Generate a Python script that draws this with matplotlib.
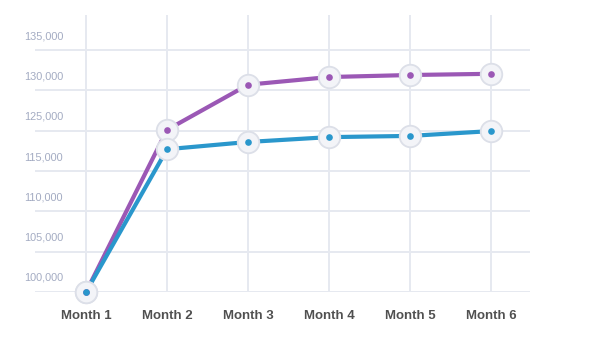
import matplotlib
matplotlib.use("Agg")
import matplotlib.pyplot as plt

months = ["Month 1", "Month 2", "Month 3", "Month 4", "Month 5", "Month 6"]
purple_values = [100000, 120100, 125700, 126650, 126900, 127050]
blue_values = [100000, 117700, 118600, 119200, 119350, 119950]

grid_values = [100000, 105000, 110000, 115000, 120000, 125000, 130000]
grid_labels = ["100,000", "105,000", "110,000", "115,000", "125,000", "130,000", "135,000"]

PURPLE = "#9b58b5"
BLUE = "#2a97cc"
GRID = "#e6e9f0"

fig = plt.figure(figsize=(5.96, 3.44), dpi=100)
ax = fig.add_axes([35 / 596, 52 / 344, 495 / 596, 277 / 344])

x = list(range(len(months)))

for values, color in [(purple_values, PURPLE), (blue_values, BLUE)]:
    ax.plot(x, values, color=color, linewidth=3, solid_capstyle="round", zorder=3)
    # halo marker with soft edge
    ax.plot(x, values, linestyle="none", marker="o", markersize=15.5,
            markerfacecolor="#f3f4f8", markeredgecolor="#dcdfe8",
            markeredgewidth=1.3, zorder=4, clip_on=False)
    ax.plot(x, values, linestyle="none", marker="o", markersize=4.8,
            markerfacecolor=color, markeredgewidth=0, zorder=5, clip_on=False)

ax.set_xlim(-0.63, 5.48)
ax.set_ylim(100000, 134340)

ax.set_xticks(x)
ax.set_xticklabels(months, fontsize=9.5, fontweight="bold", color="#505050",
                   family=["Liberation Sans", "DejaVu Sans"])
ax.tick_params(axis="x", length=0, pad=13)

ax.set_yticks(grid_values)
ax.set_yticklabels([])
ax.tick_params(axis="y", length=0)

ax.grid(True, color=GRID, linewidth=1.4, zorder=0)
ax.set_axisbelow(True)
for spine in ax.spines.values():
    spine.set_visible(False)

for val, label in zip(grid_values, grid_labels):
    ax.annotate(label, xy=(-0.022, val), xycoords=ax.get_yaxis_transform(),
                xytext=(0, 14), textcoords="offset pixels",
                ha="left", va="center", fontsize=7.8, color="#a3abc2",
                family=["Liberation Sans", "DejaVu Sans"], annotation_clip=False)

fig.savefig("out.png", dpi=100, facecolor="white")
